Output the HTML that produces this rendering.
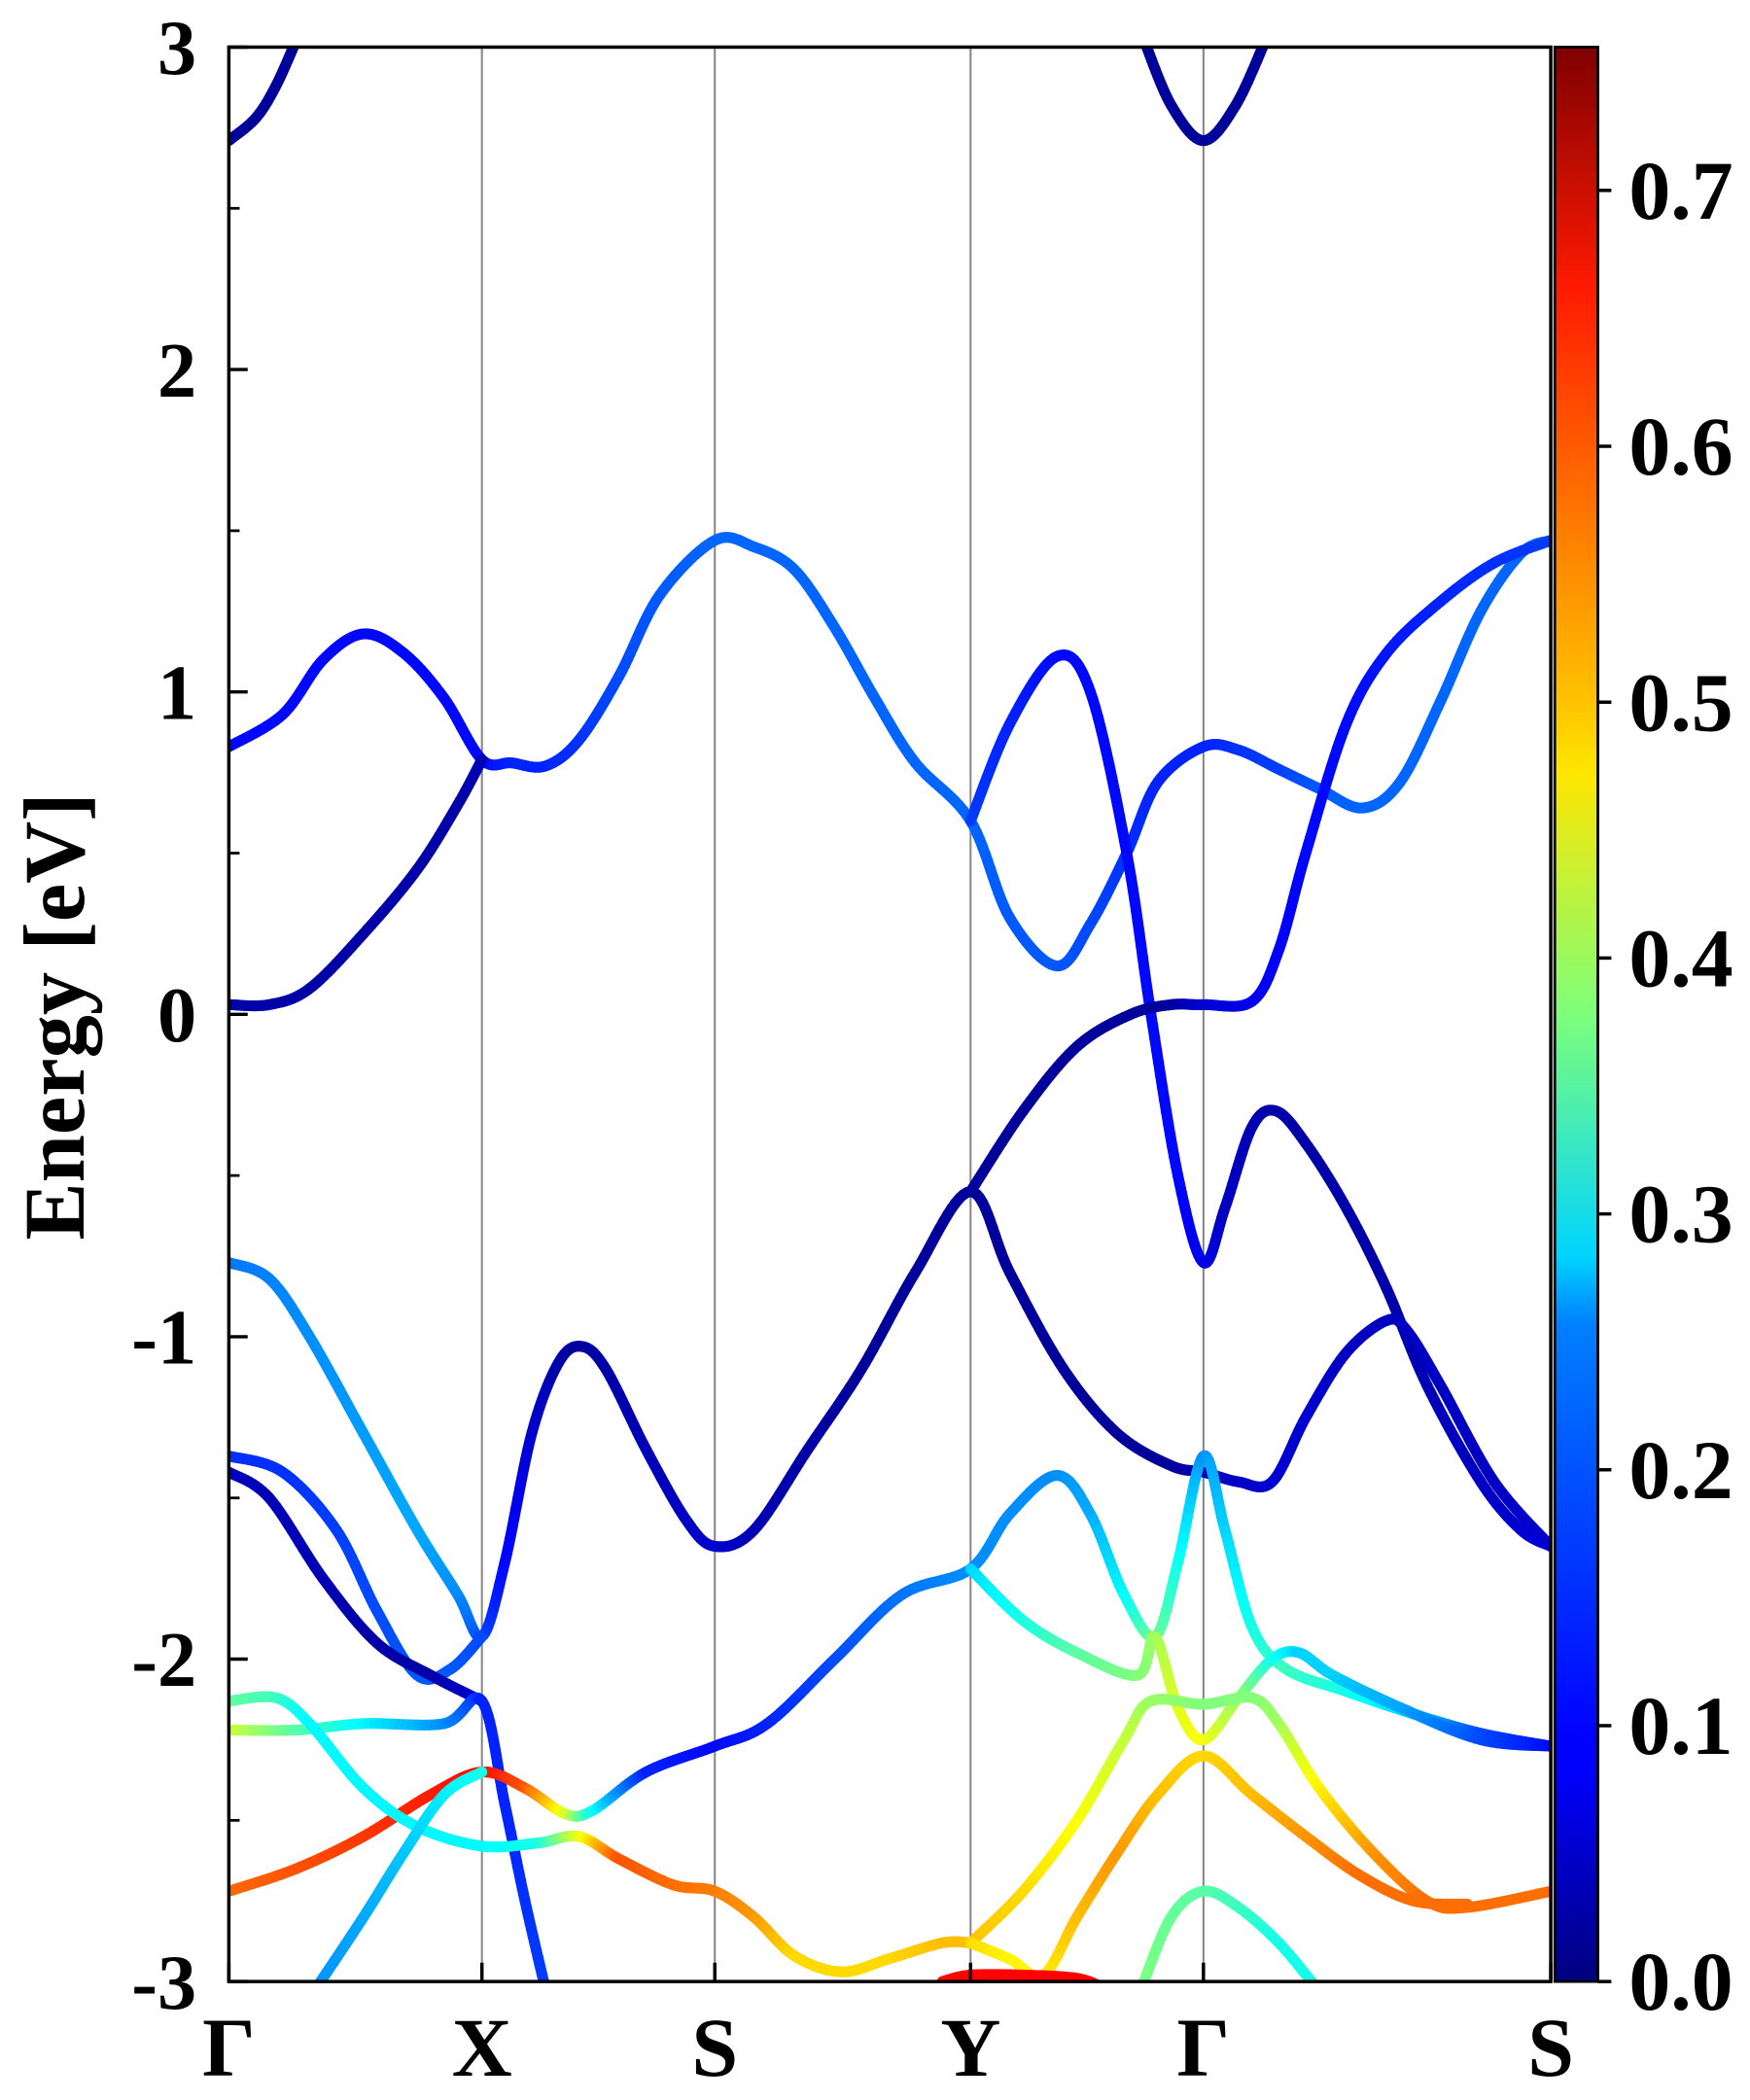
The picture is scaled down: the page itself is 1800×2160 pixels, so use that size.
<!DOCTYPE html>
<html><head><meta charset="utf-8">
<style>
html,body{margin:0;padding:0;background:#fff;}
svg{display:block;}
text{font-family:"Liberation Serif",serif;font-weight:bold;fill:#000;}
</style></head>
<body>
<svg id="chart" width="1800" height="2160" viewBox="0 0 1300 1560" xmlns="http://www.w3.org/2000/svg">
<defs>
<linearGradient id="jet" x1="0" y1="1" x2="0" y2="0">
<stop offset="0" stop-color="#00007f"/><stop offset="0.11" stop-color="#0000ff"/><stop offset="0.125" stop-color="#0000ff"/>
<stop offset="0.34" stop-color="#0080ff"/><stop offset="0.375" stop-color="#00d4ff"/><stop offset="0.5" stop-color="#7dff7a"/>
<stop offset="0.625" stop-color="#ffe600"/><stop offset="0.66" stop-color="#ffc400"/><stop offset="0.875" stop-color="#ff1a00"/><stop offset="1" stop-color="#7f0000"/>
</linearGradient>
<clipPath id="plotclip"><rect x="170" y="35" width="982" height="1437"/></clipPath>
</defs>
<g id="grid"></g>
<g id="bands" clip-path="url(#plotclip)"></g>
<rect x="170" y="35" width="982" height="1437" fill="none" stroke="#000" stroke-width="2.5"/>
<g id="yticks"></g>
<g id="xticks"></g>
<text transform="translate(62,755) rotate(-90)" text-anchor="middle" font-size="64">Energy [eV]</text>
<rect x="1155" y="35" width="32" height="1437" fill="url(#jet)" stroke="#000" stroke-width="2"/>
<g id="cticks"></g>
</svg>
<script>
const kLabels = ["Γ","X","S","Y","Γ","S"];
const kTicks = [0,188,361,551,724,982];
const eTicks = [-3,-2,-1,0,1,2,3];
const eTickLabels = ["-3","-2","-1","0","1","2","3"];
const cTicks = [0,0.1,0.2,0.3,0.4,0.5,0.6,0.7];
const cTickLabels = ["0.0","0.1","0.2","0.3","0.4","0.5","0.6","0.7"];
const wMax = 0.756;

const bandAK=[0,20,35,50], bandAE=[2.71,2.78,2.88,3.02], bandAW=[0.02,0.02,0.02,0.02];
const bandA2K=[680,700,724,748,770], bandA2E=[3.02,2.82,2.71,2.82,3.02], bandA2W=[0.02,0.02,0.02,0.02,0.02];
const bandBK=[0,40,70,100,130,160,188,210,235,260,290,320,361,390,420,450,480,510,551,580,615,640,667,690,724,750,780,810,842,870,900,930,960,982];
const bandBE=[0.83,0.93,1.1,1.18,1.12,0.98,0.79,0.78,0.77,0.85,1.05,1.3,1.47,1.45,1.38,1.2,0.98,0.78,0.6,0.3,0.15,0.28,0.5,0.72,0.83,0.82,0.76,0.7,0.64,0.72,0.97,1.25,1.43,1.47];
const bandBW=[0.1,0.1,0.1,0.1,0.1,0.1,0.1,0.12,0.12,0.13,0.15,0.16,0.17,0.17,0.17,0.17,0.17,0.17,0.17,0.16,0.16,0.15,0.13,0.12,0.12,0.13,0.14,0.16,0.17,0.17,0.17,0.17,0.17,0.17];
const bandB2K=[551,580,615,640,667,685,705,724,740,760,778,800,830,860,890,930,960,982];
const bandB2E=[0.6,0.9,1.11,1.0,0.5,0.0,-0.5,-0.77,-0.6,-0.35,-0.3,-0.4,-0.6,-0.85,-1.15,-1.45,-1.6,-1.65];
const bandB2W=[0.14,0.12,0.1,0.1,0.1,0.1,0.1,0.08,0.05,0.04,0.03,0.03,0.03,0.03,0.04,0.05,0.06,0.07];
const bandCK=[0,30,60,100,140,170,188], bandCE=[0.03,0.03,0.08,0.25,0.45,0.65,0.79], bandCW=[0.03,0.03,0.03,0.03,0.03,0.03,0.04];
const bandC2K=[551,590,630,670,700,724,760,780,800,830,860,900,940,982];
const bandC2E=[-0.55,-0.3,-0.1,0.0,0.03,0.03,0.04,0.2,0.5,0.9,1.12,1.28,1.4,1.47];
const bandC2W=[0.02,0.02,0.02,0.02,0.02,0.06,0.08,0.09,0.1,0.1,0.11,0.12,0.13,0.14];
const bandDK=[0,30,60,100,140,170,188,205,225,245,262,280,310,340,361,390,430,470,510,551,580,620,660,700,724,750,775,800,830,860,875,900,940,982];
const bandDE=[-0.77,-0.82,-1.0,-1.3,-1.6,-1.8,-1.93,-1.7,-1.3,-1.08,-1.03,-1.1,-1.35,-1.57,-1.65,-1.6,-1.35,-1.1,-0.8,-0.55,-0.8,-1.1,-1.3,-1.4,-1.42,-1.45,-1.45,-1.25,-1.05,-0.95,-0.98,-1.15,-1.45,-1.65];
const bandDW=[0.18,0.19,0.2,0.21,0.22,0.2,0.15,0.1,0.06,0.03,0.02,0.03,0.04,0.05,0.06,0.04,0.03,0.02,0.02,0.02,0.02,0.02,0.02,0.02,0.04,0.05,0.06,0.06,0.05,0.05,0.05,0.05,0.05,0.06];
const bandEK=[0,40,80,110,140,165,188], bandEE=[-1.37,-1.42,-1.6,-1.85,-2.05,-2.03,-1.93], bandEW=[0.13,0.13,0.14,0.15,0.16,0.16,0.15];
const bandFK=[0,30,70,110,150,188], bandFE=[-1.42,-1.5,-1.75,-1.95,-2.05,-2.13], bandFW=[0.05,0.04,0.04,0.03,0.03,0.06];
const bandJK=[0,50,100,160,188,205,220,235], bandJE=[-2.22,-2.22,-2.2,-2.2,-2.13,-2.45,-2.75,-3.02], bandJW=[0.45,0.35,0.28,0.2,0.12,0.12,0.13,0.14];
const bandGK=[0,50,100,150,188,220,250,270,310,361,400,450,500,551,580,615,640,665,688,705,724,740,760,785,830,880,930,982];
const bandGE=[-2.72,-2.65,-2.55,-2.42,-2.35,-2.4,-2.48,-2.47,-2.35,-2.27,-2.2,-2.0,-1.8,-1.72,-1.55,-1.43,-1.55,-1.8,-1.93,-1.7,-1.37,-1.6,-1.9,-2.03,-2.1,-2.17,-2.23,-2.27];
const bandGW=[0.58,0.6,0.62,0.64,0.66,0.6,0.45,0.3,0.12,0.1,0.12,0.15,0.18,0.2,0.2,0.2,0.22,0.28,0.37,0.3,0.2,0.25,0.3,0.33,0.3,0.25,0.15,0.1];
const bandHK=[551,590,630,675,688,705,724,750,775,795,820,870,930,982];
const bandHE=[-1.72,-1.88,-1.98,-2.05,-1.93,-2.15,-2.25,-2.12,-2.0,-1.98,-2.05,-2.15,-2.25,-2.27];
const bandHW=[0.25,0.3,0.35,0.38,0.4,0.45,0.47,0.4,0.3,0.25,0.25,0.22,0.15,0.1];
const bandIK=[0,35,60,100,140,188,230,260,290,330,361,390,420,455,490,530,551];
const bandIE=[-2.13,-2.12,-2.2,-2.4,-2.52,-2.58,-2.57,-2.55,-2.62,-2.7,-2.72,-2.8,-2.92,-2.97,-2.93,-2.88,-2.88];
const bandIW=[0.36,0.33,0.28,0.28,0.28,0.28,0.3,0.45,0.6,0.58,0.57,0.55,0.5,0.5,0.5,0.52,0.52];
const bandI1K=[551,590,630,665,685,724,760,780,810,850,890,920,982];
const bandI1E=[-2.88,-2.72,-2.5,-2.25,-2.13,-2.14,-2.12,-2.2,-2.4,-2.6,-2.75,-2.77,-2.72];
const bandI1W=[0.52,0.5,0.47,0.43,0.4,0.38,0.38,0.4,0.48,0.55,0.58,0.58,0.58];
const bandI2K=[551,580,605,630,660,690,724,760,800,840,880,920];
const bandI2E=[-2.88,-2.93,-2.98,-2.8,-2.6,-2.42,-2.3,-2.42,-2.55,-2.67,-2.75,-2.76];
const bandI2W=[0.5,0.48,0.48,0.52,0.55,0.52,0.5,0.52,0.55,0.58,0.58,0.58];
const bandLK=[65,100,130,160,188], bandLE=[-3.02,-2.8,-2.6,-2.42,-2.35], bandLW=[0.2,0.22,0.24,0.27,0.3];
const bandMK=[530,551,590,630,650], bandME=[-3.0,-2.98,-2.98,-2.99,-3.02], bandMW=[0.65,0.66,0.66,0.66,0.65];
const bandNK=[678,700,724,750,780,808], bandNE=[-3.02,-2.8,-2.72,-2.77,-2.88,-3.02], bandNW=[0.38,0.36,0.35,0.33,0.3,0.3];

const bandList=[
 ["band-gamma-top-left",bandAK,bandAE,bandAW],["band-gamma-top-mid",bandA2K,bandA2E,bandA2W],
 ["band-conduction-1",bandBK,bandBE,bandBW],["band-conduction-2",bandB2K,bandB2E,bandB2W],
 ["band-conduction-3",bandCK,bandCE,bandCW],["band-conduction-4",bandC2K,bandC2E,bandC2W],
 ["band-valence-1",bandDK,bandDE,bandDW],["band-valence-2",bandEK,bandEE,bandEW],
 ["band-valence-3",bandFK,bandFE,bandFW],["band-valence-4",bandJK,bandJE,bandJW],
 ["band-valence-5",bandGK,bandGE,bandGW],["band-valence-6",bandHK,bandHE,bandHW],
 ["band-valence-7",bandIK,bandIE,bandIW],["band-valence-8",bandI1K,bandI1E,bandI1W],
 ["band-valence-9",bandI2K,bandI2E,bandI2W],["band-valence-10",bandLK,bandLE,bandLW],
 ["band-valence-11",bandMK,bandME,bandMW],["band-valence-12",bandNK,bandNE,bandNW]];

const NS="http://www.w3.org/2000/svg";
const X0=170,X1=1152,Y0=35,Y1=1472;
function xS(k){return X0+(k-0)/(982-0)*(X1-X0);}
function yS(e){return Y1-(e+3)/6*(Y1-Y0);}
function cS(w){return Y1-w/wMax*(Y1-Y0);}
function clip(v){return Math.max(0,Math.min(1,v));}
function jet(w){const t=clip(w/wMax);const r=clip(1.5-Math.abs(4*t-3)),g=clip(1.5-Math.abs(4*t-2)),b=clip(1.5-Math.abs(4*t-1));
 return "rgb("+Math.round(r*255)+","+Math.round(g*255)+","+Math.round(b*255)+")";}
function mk(tag,attrs,parent){const el=document.createElementNS(NS,tag);for(const a in attrs)el.setAttribute(a,attrs[a]);parent.appendChild(el);return el;}

const grid=document.getElementById('grid');
kTicks.slice(1,-1).forEach(k=>{const l=mk('line',{x1:xS(k),x2:xS(k),y1:Y0,y2:Y1,stroke:'#888','stroke-width':1.5},grid);
 
 });

const bandsG=document.getElementById('bands');
bandList.forEach(b=>{
 const [name,K,E,W]=b;
 const g=mk('g',{},bandsG);
 
 
 const P=K.map((k,i)=>[xS(k),yS(E[i])]);
 const n=P.length;
 let pts=[];
 for(let i=0;i<n-1;i++){
  const p0=P[Math.max(0,i-1)],p1=P[i],p2=P[i+1],p3=P[Math.min(n-1,i+2)];
  const S=14;
  for(let s=0;s<S;s++){const t=s/S,t2=t*t,t3=t2*t;
   const f=(a,b,c,d)=>0.5*((2*b)+(-a+c)*t+(2*a-5*b+4*c-d)*t2+(-a+3*b-3*c+d)*t3);
   pts.push([f(p0[0],p1[0],p2[0],p3[0]),f(p0[1],p1[1],p2[1],p3[1]),W[i]+(W[i+1]-W[i])*t]);}
 }
 pts.push([P[n-1][0],P[n-1][1],W[n-1]]);
 for(let i=0;i<pts.length-1;i++){
  const a=pts[i],c=pts[i+1];
  mk('line',{x1:a[0].toFixed(2),y1:a[1].toFixed(2),x2:c[0].toFixed(2),y2:c[1].toFixed(2),stroke:jet((a[2]+c[2])/2),'stroke-width':8,'stroke-linecap':'round'},g);
 }
});

const yt=document.getElementById('yticks');
eTicks.forEach((e,i)=>{
 const y=yS(e);
 const tk=mk('line',{x1:X0,x2:X0+14,y1:y,y2:y,stroke:'#000','stroke-width':2.5},yt);
 
 
 const t=mk('text',{x:146,y:y+20,'text-anchor':'end','font-size':58},yt);t.textContent=eTickLabels[i];
 
 
 if(i<eTicks.length-1){const ym=yS(e+0.5);const m=mk('line',{x1:X0,x2:X0+8,y1:ym,y2:ym,stroke:'#000','stroke-width':2},yt);
  
  }
});
const xt=document.getElementById('xticks');
kTicks.forEach((k,i)=>{
 const x=xS(k);
 const tk=mk('line',{x1:x,x2:x,y1:Y1,y2:Y1-14,stroke:'#000','stroke-width':2.5},xt);
 
 
 const t=mk('text',{x:x,y:1542,'text-anchor':'middle','font-size':62},xt);t.textContent=kLabels[i];
 
 
});
const ct=document.getElementById('cticks');
cTicks.forEach((c,i)=>{
 const y=cS(c);
 const tk=mk('line',{x1:1187,x2:1197,y1:y,y2:y,stroke:'#000','stroke-width':2.5},ct);
 
 
 const t=mk('text',{x:1210,y:y+21,'text-anchor':'start','font-size':62},ct);t.textContent=cTickLabels[i];
 
 
});
</script>
</body></html>
